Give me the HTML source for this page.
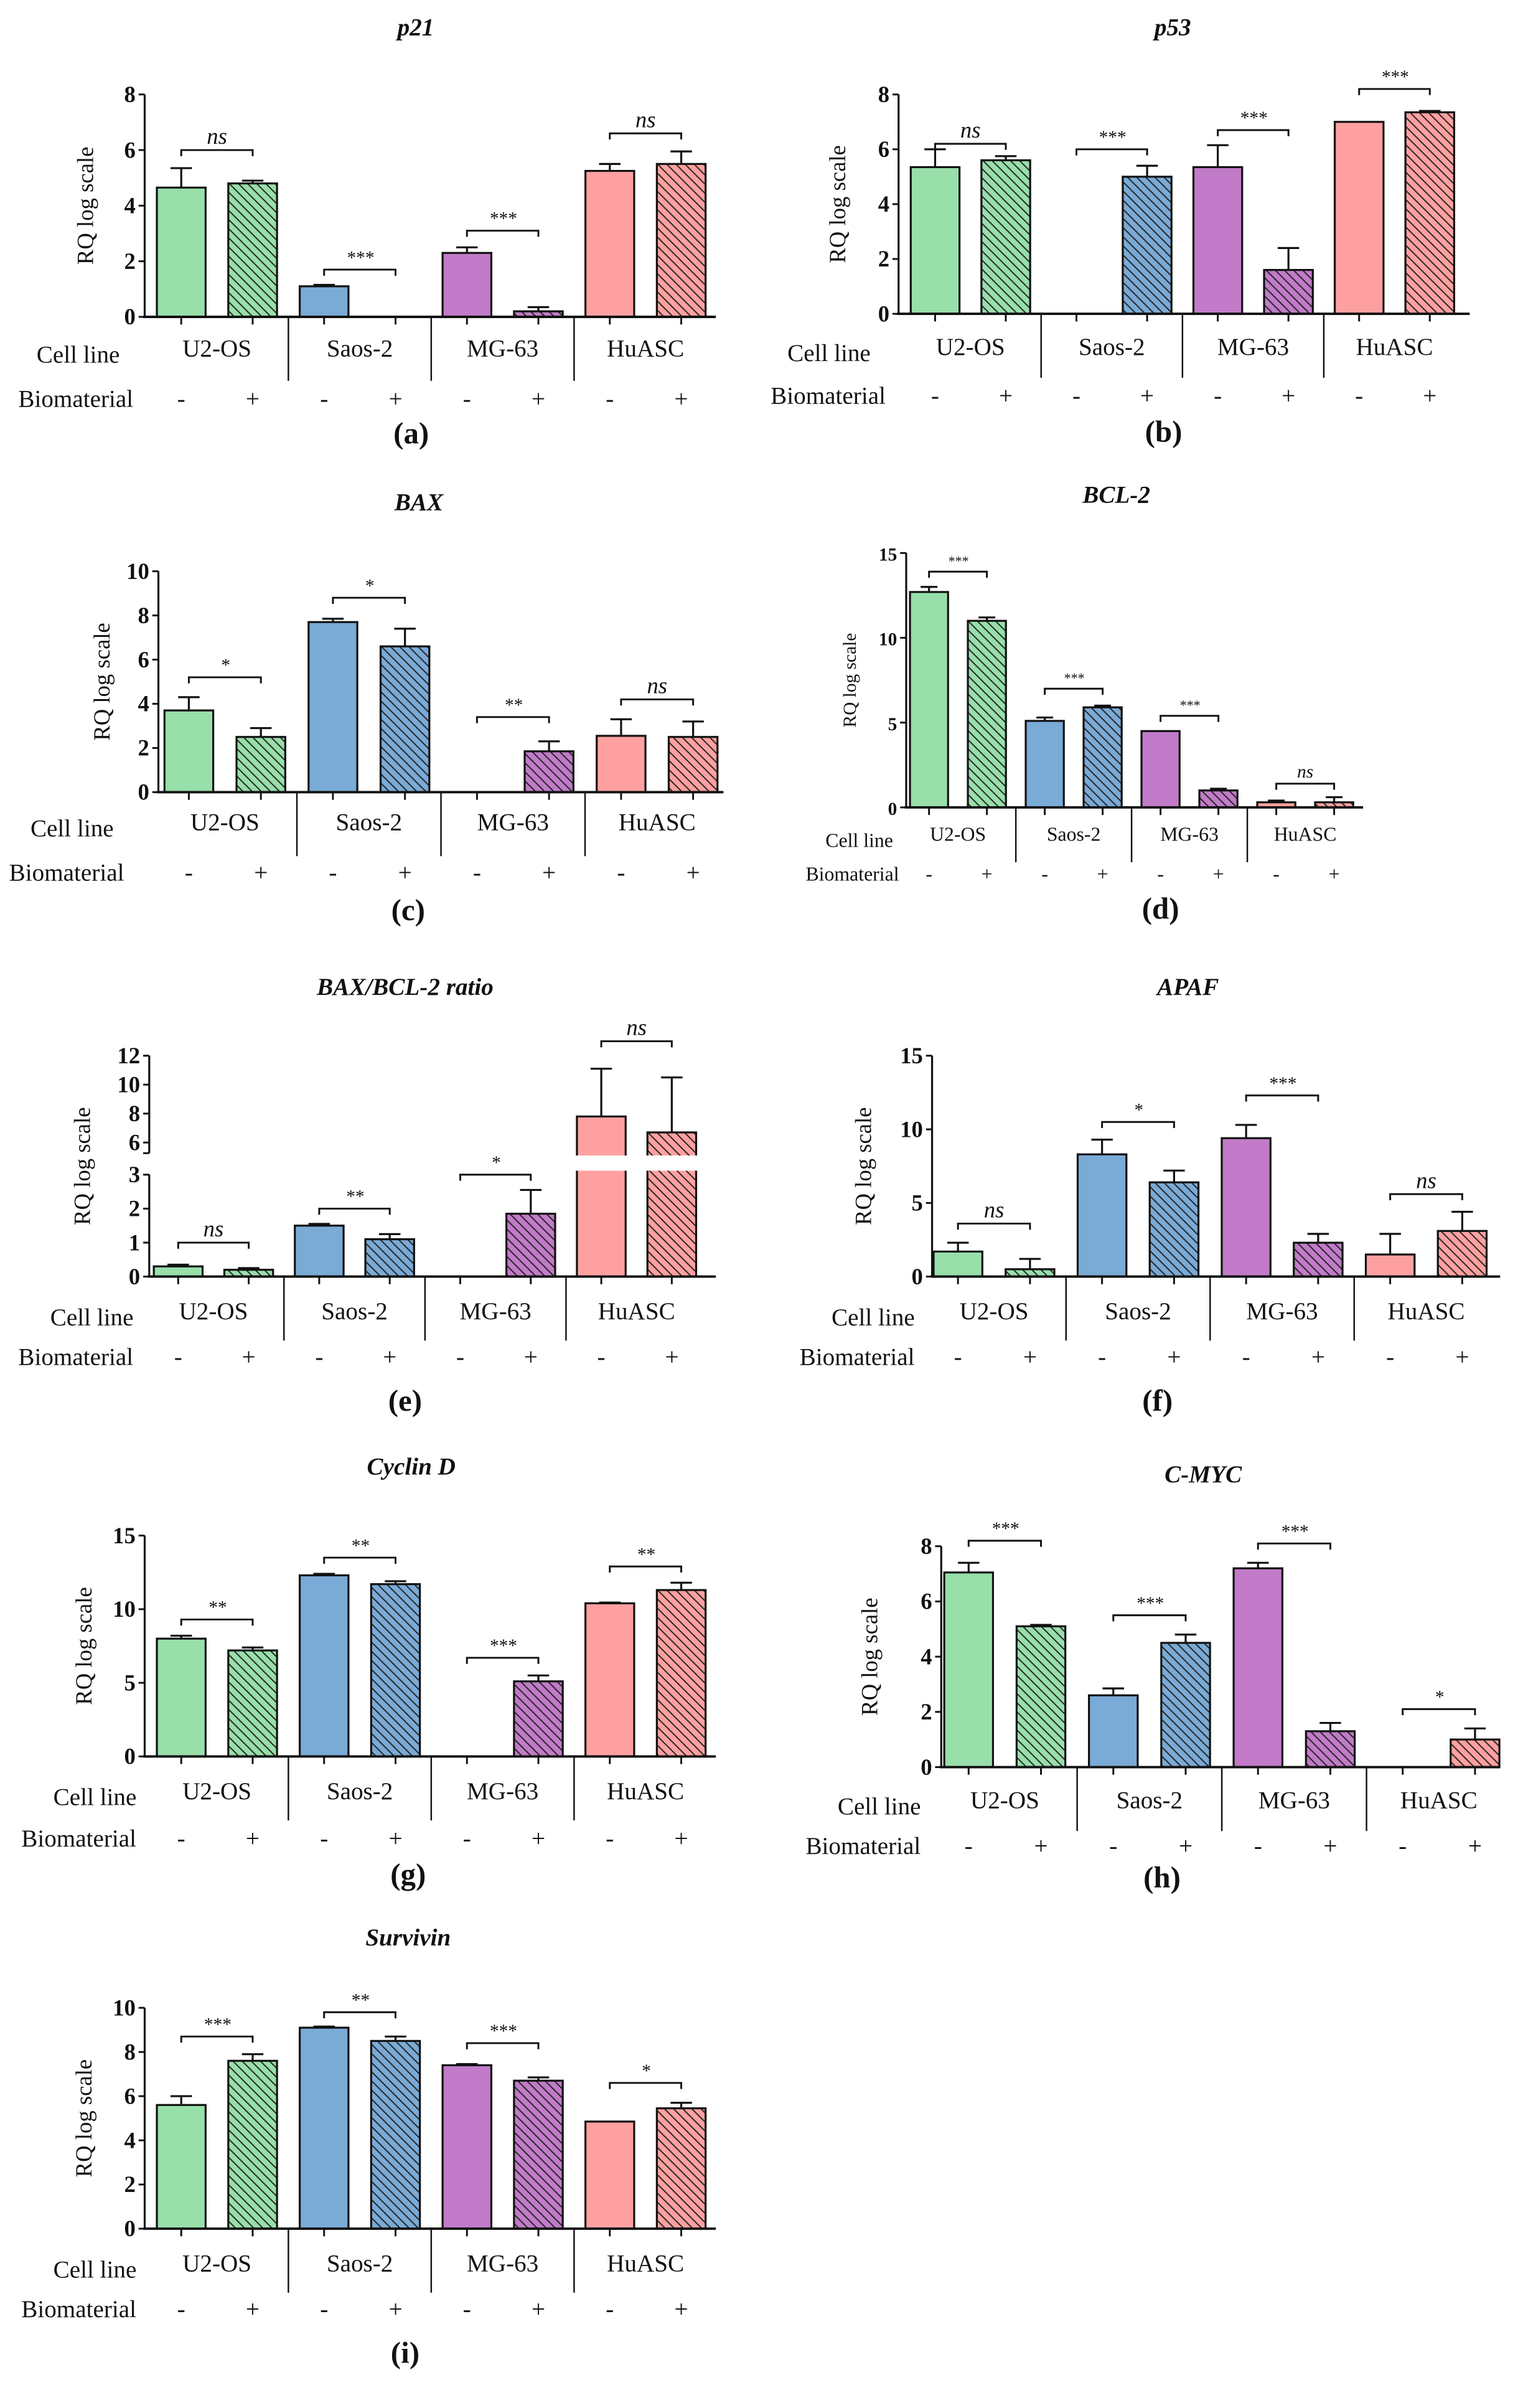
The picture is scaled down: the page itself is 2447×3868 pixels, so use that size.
<!DOCTYPE html>
<html><head><meta charset="utf-8"><style>
html,body{margin:0;padding:0;background:#fff;}
svg{display:block;}
text{font-family:"Liberation Serif",serif;fill:#111;}
</style></head><body>
<svg id="fig" width="2447" height="3868" viewBox="0 0 1000 1580.7" xmlns="http://www.w3.org/2000/svg">
<defs>
<pattern id="h0" patternUnits="userSpaceOnUse" width="6" height="6"><rect width="6" height="6" fill="#98DFAA"/><path d="M-1,-1 L7,7 M-1,5 L1,7 M5,-1 L7,1" stroke="#222" stroke-width="0.8"/></pattern>
<pattern id="h1" patternUnits="userSpaceOnUse" width="6" height="6"><rect width="6" height="6" fill="#7AAAD6"/><path d="M-1,-1 L7,7 M-1,5 L1,7 M5,-1 L7,1" stroke="#222" stroke-width="0.8"/></pattern>
<pattern id="h2" patternUnits="userSpaceOnUse" width="6" height="6"><rect width="6" height="6" fill="#C17BC8"/><path d="M-1,-1 L7,7 M-1,5 L1,7 M5,-1 L7,1" stroke="#222" stroke-width="0.8"/></pattern>
<pattern id="h3" patternUnits="userSpaceOnUse" width="6" height="6"><rect width="6" height="6" fill="#FFA0A0"/><path d="M-1,-1 L7,7 M-1,5 L1,7 M5,-1 L7,1" stroke="#222" stroke-width="0.8"/></pattern>
</defs>
</svg>
<script>
const cellLines = ["U2-OS","Saos-2","MG-63","HuASC"];
const bioLabels = ["-","+","-","+","-","+","-","+"];
const colors = ["#98DFAA","#7AAAD6","#C17BC8","#FFA0A0"];

const p21Values = [4.65,4.8,1.1,0,2.3,0.2,5.25,5.5];
const p21Errors = [0.7,0.1,0.05,0,0.2,0.15,0.25,0.45];
const p21Sig = ["ns","***","***","ns"];
const p21SigY = [6.0,1.7,3.1,6.6];
const p21Ticks = [0,2,4,6,8];

const p53Values = [5.35,5.6,0,5.0,5.35,1.6,7.0,7.35];
const p53Errors = [0.65,0.15,0,0.4,0.8,0.8,0,0.05];
const p53Sig = ["ns","***","***","***"];
const p53SigY = [6.2,6.0,6.7,8.2];
const p53Ticks = [0,2,4,6,8];

const baxValues = [3.7,2.5,7.7,6.6,0,1.85,2.55,2.5];
const baxErrors = [0.6,0.4,0.15,0.8,0,0.45,0.75,0.7];
const baxSig = ["*","*","**","ns"];
const baxSigY = [5.2,8.8,3.4,4.2];
const baxTicks = [0,2,4,6,8,10];

const bcl2Values = [12.7,11.0,5.1,5.9,4.5,1.0,0.3,0.3];
const bcl2Errors = [0.3,0.2,0.2,0.1,0,0.1,0.1,0.3];
const bcl2Sig = ["***","***","***","ns"];
const bcl2SigY = [13.9,7.0,5.4,1.4];
const bcl2Ticks = [0,5,10,15];

const ratioValues = [0.3,0.2,1.5,1.1,0,1.85,7.8,6.7];
const ratioErrors = [0.05,0.05,0.05,0.15,0,0.7,3.3,3.8];
const ratioSig = ["ns","**","*","ns"];
const ratioSigY = [1.0,2.0,3.0,13.0];
const ratioTicksLow = [0,1,2,3];
const ratioTicksHigh = [6,8,10,12];

const apafValues = [1.7,0.5,8.3,6.4,9.4,2.3,1.5,3.1];
const apafErrors = [0.6,0.7,1.0,0.8,0.9,0.6,1.4,1.3];
const apafSig = ["ns","*","***","ns"];
const apafSigY = [3.6,10.5,12.3,5.6];
const apafTicks = [0,5,10,15];

const cycValues = [8.0,7.2,12.3,11.7,0,5.1,10.4,11.3];
const cycErrors = [0.2,0.2,0.1,0.2,0,0.4,0.05,0.5];
const cycSig = ["**","**","***","**"];
const cycSigY = [9.3,13.5,6.7,12.9];
const cycTicks = [0,5,10,15];

const mycValues = [7.05,5.1,2.6,4.5,7.2,1.3,0,1.0];
const mycErrors = [0.35,0.05,0.25,0.3,0.2,0.3,0,0.4];
const mycSig = ["***","***","***","*"];
const mycSigY = [8.2,5.5,8.1,2.1];
const mycTicks = [0,2,4,6,8];

const surValues = [5.6,7.6,9.1,8.5,7.4,6.7,4.85,5.45];
const surErrors = [0.4,0.3,0.05,0.2,0.05,0.15,0,0.25];
const surSig = ["***","**","***","*"];
const surSigY = [8.7,9.8,8.4,6.6];
const surTicks = [0,2,4,6,8,10];

const NS = "http://www.w3.org/2000/svg";
const svg = document.getElementById("fig");
function mk(tag, attrs, parent, txt){
  const e = document.createElementNS(NS, tag);
  for (const k in attrs) e.setAttribute(k, attrs[k]);
  if (txt !== undefined) e.textContent = txt;
  (parent||svg).appendChild(e);
  return e;
}

function panel(c, values, errors, sig, sigY, ticks){
  const g = mk("g", {});
  
  
  const fs = c.fs || 16;
  const yScale = c.yScale || (v => c.y0 - (v / c.max) * (c.y0 - c.ytop));
  const xC = i => c.first + i * c.step;
  // title
  const t = mk("text", {x:c.tx, y:c.ty, "text-anchor":"middle", "font-size":16, "font-style":"italic", "font-weight":"bold"}, g, c.title);
  
  
  // y axis title
  const ymid = (c.y0 + c.ytop) / 2;
  const yt = mk("text", {x:c.ytx, y:ymid, "text-anchor":"middle", "font-size":fs-1, transform:`rotate(-90 ${c.ytx} ${ymid})`}, g, "RQ log scale");
  
  
  // bars
  values.forEach((v, i) => {
    const grp = Math.floor(i / 2);
    const x = xC(i) - c.bw / 2;
    if (v > 0) {
      const yv = yScale(v);
      const fill = i % 2 ? `url(#h${grp})` : colors[grp];
      const r = mk("rect", {x:x, y:yv, width:c.bw, height:c.y0 - yv, fill:fill, stroke:"#111", "stroke-width":1.3}, g);
      
      
      if (errors[i] > 0) {
        const ye = yScale(v + errors[i]);
        const eb = mk("path", {d:`M${xC(i)},${yv} V${ye} M${xC(i)-c.bw*0.22},${ye} H${xC(i)+c.bw*0.22}`, stroke:"#111", "stroke-width":1.3, fill:"none"}, g);
        
        
      }
      if (c.gap && v > c.gapVal) {
        mk("rect", {x:x - 1, y:c.gap[0], width:c.bw + 2, height:c.gap[1] - c.gap[0], fill:"#fff"}, g);
      }
    }
    // x tick
    mk("line", {x1:xC(i), x2:xC(i), y1:c.y0, y2:c.y0 + 5, stroke:"#111", "stroke-width":1.2}, g);
    const bl = mk("text", {x:xC(i), y:c.bioY, "text-anchor":"middle", "font-size":fs, fill:i%2?"#555":"#333"}, g, bioLabels[i]);
    
    
  });
  // axes
  if (c.gap) {
    mk("line", {x1:c.ax, x2:c.ax, y1:c.y0, y2:c.axLowTop, stroke:"#111", "stroke-width":1.3}, g);
    mk("line", {x1:c.ax, x2:c.ax, y1:c.axHighBot, y2:c.ytop, stroke:"#111", "stroke-width":1.3}, g);
    mk("line", {x1:c.ax - 4, x2:c.ax, y1:c.axHighBot, y2:c.axHighBot, stroke:"#111", "stroke-width":1.2}, g);
  } else {
    mk("line", {x1:c.ax, x2:c.ax, y1:c.y0, y2:c.ytop, stroke:"#111", "stroke-width":1.3}, g);
  }
  mk("line", {x1:c.ax - 1, x2:c.xend, y1:c.y0, y2:c.y0, stroke:"#111", "stroke-width":1.6}, g);
  ticks.forEach(tv => {
    const y = yScale(tv);
    mk("line", {x1:c.ax - 4, x2:c.ax, y1:y, y2:y, stroke:"#111", "stroke-width":1.2}, g);
    const tl = mk("text", {x:c.ax - 6, y:y + 5, "text-anchor":"end", "font-size":fs - 1, "font-weight":"bold"}, g, tv);
    
    
  });
  // groups
  for (let k = 0; k < 4; k++) {
    const cx = (xC(2*k) + xC(2*k+1)) / 2;
    const cl = mk("text", {x:cx, y:c.cellY, "text-anchor":"middle", "font-size":fs}, g, cellLines[k]);
    
    
    if (k < 3) {
      const sx = (xC(2*k+1) + xC(2*k+2)) / 2;
      mk("line", {x1:sx, x2:sx, y1:c.y0, y2:c.y0 + (c.sepLen || 42), stroke:"#111", "stroke-width":1}, g);
    }
    // significance
    const sy = yScale(sigY[k]);
    const x1 = xC(2*k), x2 = xC(2*k+1);
    const br = mk("path", {d:`M${x1},${sy+4} V${sy} H${x2} V${sy+4}`, stroke:"#111", "stroke-width":1.2, fill:"none"}, g);
    
    
    const st = mk("text", {x:(x1+x2)/2, y:sy - 4, "text-anchor":"middle", "font-size":sig[k]==="ns"?fs-1:fs-4, "font-style":"italic", fill:"#333"}, g, sig[k]);
    
    
  }
  const cl = mk("text", {x:c.clx, y:c.cellY + 4, "font-size":fs}, g, "Cell line");
  
  
  const bm = mk("text", {x:c.bmx, y:c.bioY, "font-size":fs}, g, "Biomaterial");
  
  
  const pl = mk("text", {x:c.plx, y:c.ply, "text-anchor":"middle", "font-size":20, "font-weight":"bold"}, g, `(${c.id})`);
  
  
}

panel({id:"a", title:"p21", tx:273, ty:23, ax:95, y0:208, ytop:62, max:8, first:119, step:46.9, bw:32, xend:470, ytx:61, cellY:234, bioY:267, clx:24, bmx:12, plx:270, ply:291},
  p21Values, p21Errors, p21Sig, p21SigY, p21Ticks);
panel({id:"b", title:"p53", tx:770, ty:23, ax:590, y0:206, ytop:62, max:8, first:614, step:46.4, bw:32, xend:965, ytx:555, cellY:233, bioY:265, clx:517, bmx:506, plx:764, ply:290},
  p53Values, p53Errors, p53Sig, p53SigY, p53Ticks);
panel({id:"c", title:"BAX", tx:275, ty:335, ax:104, y0:520, ytop:375, max:10, first:124, step:47.3, bw:32, xend:475, ytx:72, cellY:545, bioY:578, clx:20, bmx:6, plx:268, ply:604},
  baxValues, baxErrors, baxSig, baxSigY, baxTicks);
panel({id:"d", title:"BCL-2", tx:733, ty:330, ax:595, y0:530, ytop:363, max:15, first:610, step:38, bw:25, xend:895, ytx:562, cellY:552, bioY:578, clx:542, bmx:529, plx:762, ply:603, fs:13, sepLen:36},
  bcl2Values, bcl2Errors, bcl2Sig, bcl2SigY, bcl2Ticks);
panel({id:"e", title:"BAX/BCL-2 ratio", tx:266, ty:653, ax:98, y0:838, ytop:693, first:117, step:46.3, bw:32, xend:470, ytx:59, cellY:866, bioY:896, clx:33, bmx:12, plx:266, ply:926,
  yScale: v => v <= 4 ? 838 - v * 22.3 : 750 - (v - 6) * 9.5, gap:[758.5,768.5], gapVal:3.1, axLowTop:771, axHighBot:757},
  ratioValues, ratioErrors, ratioSig, ratioSigY, ratioTicksLow.concat(ratioTicksHigh));
panel({id:"f", title:"APAF", tx:780, ty:653, ax:612, y0:838, ytop:693, max:15, first:629, step:47.3, bw:32, xend:985, ytx:572, cellY:866, bioY:896, clx:546, bmx:525, plx:760, ply:926},
  apafValues, apafErrors, apafSig, apafSigY, apafTicks);
panel({id:"g", title:"Cyclin D", tx:270, ty:968, ax:95, y0:1153, ytop:1008, max:15, first:119, step:46.9, bw:32, xend:470, ytx:60, cellY:1181, bioY:1212, clx:35, bmx:14, plx:268, ply:1237},
  cycValues, cycErrors, cycSig, cycSigY, cycTicks);
panel({id:"h", title:"C-MYC", tx:790, ty:973, ax:618, y0:1160, ytop:1015, max:8, first:636, step:47.5, bw:32, xend:985, ytx:576, cellY:1187, bioY:1217, clx:550, bmx:529, plx:763, ply:1239},
  mycValues, mycErrors, mycSig, mycSigY, mycTicks);
panel({id:"i", title:"Survivin", tx:268, ty:1277, ax:95, y0:1463, ytop:1318, max:10, first:119, step:46.9, bw:32, xend:470, ytx:60, cellY:1491, bioY:1521, clx:35, bmx:14, plx:266, ply:1551},
  surValues, surErrors, surSig, surSigY, surTicks);
</script>
</body></html>
